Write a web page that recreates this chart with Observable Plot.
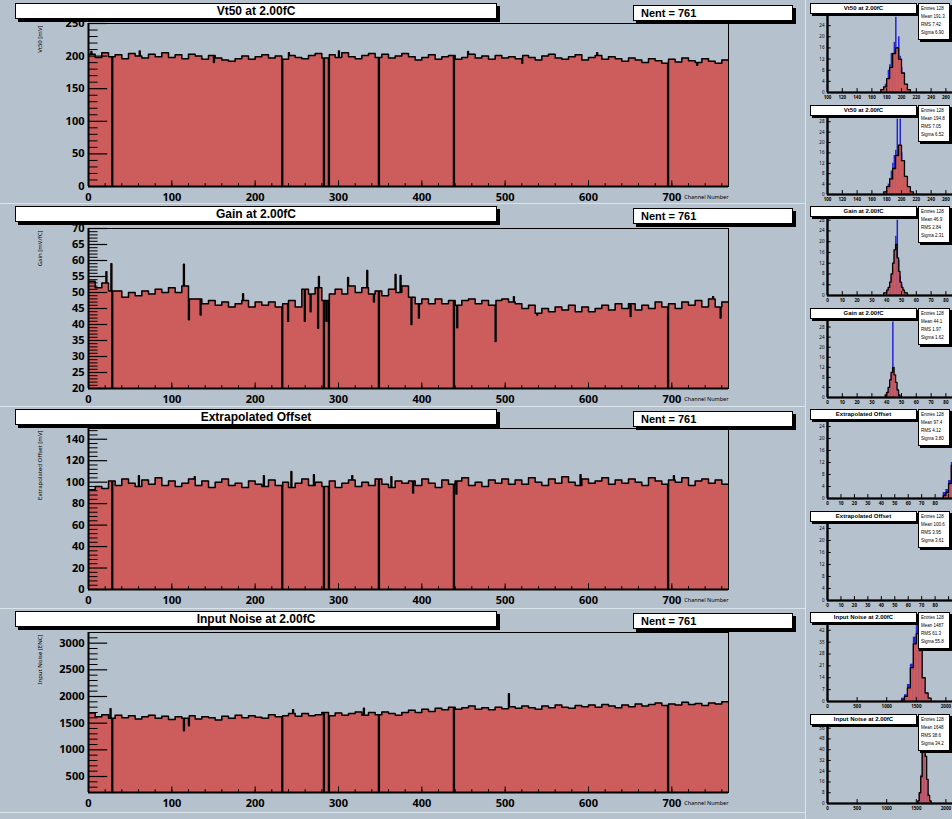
<!DOCTYPE html>
<html>
<head>
<meta charset="utf-8">
<script src="https://cdn.jsdelivr.net/npm/d3@7"></script>
<script src="https://cdn.jsdelivr.net/npm/@observablehq/plot@0.6"></script>
<style>
  body { margin: 0; background: #fff; }
  #canvas { position: relative; width: 952px; height: 819px; overflow: hidden; background: #b5c1cc;
            font-family: "Liberation Sans", Arial, Helvetica, sans-serif; }
  #canvas svg { position: absolute; max-width: none; }
  .box { position: absolute; background: #fff; border: 1px solid #000; box-shadow: 3px 3px 0 #000;
         box-sizing: border-box; color: #000; white-space: nowrap; overflow: hidden; }
  .title { font-weight: bold; font-size: 12px; line-height: 14px; text-align: center; }
  .nent { font-weight: bold; font-size: 11px; line-height: 14px; padding-left: 7px; }
  .mtitle { font-weight: bold; font-size: 6px; line-height: 9px; text-align: center; box-shadow: 2px 2px 0 #000; }
  .mstats { font-size: 4.5px; line-height: 8px; padding: 1px 2px; box-shadow: 2px 2px 0 #000; }
  .sep { position: absolute; background: #dbe3ea; }
</style>
</head>
<body>
<div id="canvas"></div>
<script>
// ---- channel scan: 768 channels, values listed per 8-channel block ----
const NCH = 768;
const deadChannels = [28, 232, 282, 288, 348, 438, 695];
const nent = 761;
const xMajor = [0, 100, 200, 300, 400, 500, 600, 700];

const vt50Blocks = [
  203,198,205,199,202,196,204,200,197,203,199,205,198,202,196,203,
  200,195,201,197,194,192,196,200,195,199,202,197,200,195,201,198,
  196,201,204,197,202,198,205,199,196,201,204,198,203,197,200,204,
  199,194,198,202,195,199,201,195,198,203,197,200,195,201,197,199,
  196,201,198,194,200,203,197,195,199,202,194,198,201,195,199,196,
  192,197,194,190,196,193,189,195,191,197,193,190,196,192,189,194
];
const vt50Spikes = [[3, 207], [61, 208], [150, 190], [240, 205], [300, 208], [455, 207], [520, 189], [610, 205], [730, 186]];

const gainBlocks = [
  53.5,51.5,53,50.5,50.5,48.5,50,49,50.5,49.5,51,50,51.5,50,52,48,
  48,46.5,47.5,46,47,45.5,46.5,47.5,45.5,47,46,47,45.5,46.5,47.5,45.5,
  51,49.5,51.5,47.5,49.5,51,49.5,52,50,51.5,49.5,50.5,49,51,50,52,
  48.5,46.5,48,46.5,48,46.5,47.5,46,47.5,48,46.5,47.5,46,47.5,48,47,
  46.5,45,46,43.5,45,44,45.5,44.5,46,44,45.5,44,45,46,44.5,46.5,
  45,46.5,44.5,46,45,47,45.5,46.5,45,47,46,47.5,45.5,48,45.5,47
];
const gainSpikes = [
  [21, 56.5], [27, 59], [114, 58.8], [120, 41.5], [134, 43], [185, 49.6], [239, 41],
  [259, 41], [266, 44], [275, 38.8], [276, 55], [285, 41], [311, 54.7], [334, 56.9],
  [342, 47], [368, 55.6], [374, 55.3], [387, 40], [396, 42], [442, 39], [488, 34.7],
  [510, 48.7], [538, 43], [650, 42.5], [749, 48.7], [758, 42]
];

const offsetBlocks = [
  93,96,94,101,97,103,99,96,102,98,104,97,101,96,99,103,
  97,101,95,100,103,97,99,95,101,98,96,102,97,100,95,99,
  103,97,100,96,101,95,99,102,96,100,97,103,98,95,101,99,
  101,97,103,99,95,102,98,101,104,97,100,96,102,99,103,98,
  102,98,104,100,97,103,99,105,100,97,103,99,101,104,98,102,
  99,103,100,97,104,101,98,102,100,104,97,101,103,99,102,98
];
const offsetSpikes = [[60, 106], [127, 105], [210, 106], [243, 110], [270, 107], [316, 106],
                      [363, 105], [389, 90], [441, 89], [590, 107], [702, 106]];

const noiseBlocks = [
  1690,1620,1660,1590,1650,1600,1640,1580,1620,1650,1590,1630,1570,1620,1590,1640,
  1580,1620,1600,1560,1630,1590,1650,1600,1640,1610,1590,1660,1620,1640,1680,1630,
  1680,1640,1660,1700,1640,1690,1650,1680,1710,1650,1700,1660,1710,1680,1650,1700,
  1740,1700,1760,1720,1780,1750,1800,1760,1790,1820,1760,1790,1750,1800,1770,1810,
  1780,1820,1790,1760,1820,1790,1840,1800,1780,1830,1810,1840,1800,1850,1820,1790,
  1840,1810,1860,1820,1850,1880,1830,1860,1840,1890,1850,1870,1830,1880,1860,1900
];
const noiseSpikes = [[26, 1770], [114, 1360], [120, 1450], [245, 1750], [330, 1780], [504, 2050]];

// ---- per-chip distributions (right column) ----
const vtA_red  = [1,2,5,9,14,16,12,7,3,1];                 // from 172, width 4
const vtA_blue = [0,1,2,3,5,8,10,14,12,18,27,16,20,13,9,6,3,2,1,0]; // from 172, width 2
const vtB_red  = [1,3,6,10,15,19,13,7,3,1];                // from 176, width 4
const vtB_blue = [0,1,2,4,6,9,12,15,17,29,14,29,16,10,7,4,2,1,0,0];
const gainA_red  = [1,1,2,3,5,8,12,17,19,14,9,5,3,2,1,1];  // from 38, width 1
const gainA_blue = [0,1,1,2,4,7,10,15,22,28,13,7,4,2,1,0];
const gainB_red  = [1,2,4,7,10,12,9,6,3,1];                // from 39, width 1
const gainB_blue = [0,1,3,6,9,30,8,5,2,1];
const offA_red  = [1,2,5,11,18,22,15,7,3,1];               // from 86, width 2
const offA_blue = [2,3,6,12,17,20,14,6,2,1];
const noiseA_red  = [1,3,8,20,34,40,30,14,5,2];            // from 1250, width 50
const noiseA_blue = [2,4,10,22,38,52,28,12,4,1];
const noiseB_red  = [2,8,20,38,46,35,18,6,2,0];            // from 1525, width 25
const noiseB_blue = [1,7,21,40,44,36,17,7,2,0];

const RED = "#cd5c5c";
const BLUE = "#2323d6";
const canvas = document.getElementById("canvas");

function channelRows(blocks, spikes) {
  const sp = new Map(spikes);
  const rows = [];
  for (let ch = 0; ch < NCH; ch++) {
    const v = deadChannels.includes(ch) ? 0 : (sp.has(ch) ? sp.get(ch) : blocks[Math.floor(ch / 8)]);
    rows.push({ch, v});
  }
  rows.push({ch: NCH, v: rows[NCH - 1].v});
  return rows;
}

function range(a, b, s) { const r = []; for (let v = a; v <= b + 1e-9; v += s) r.push(+v.toFixed(6)); return r; }

function addBox(cls, left, top, width, height, html) {
  const d = document.createElement("div");
  d.className = "box " + cls;
  Object.assign(d.style, {left: left + "px", top: top + "px", width: width + "px", height: height + "px"});
  d.innerHTML = html;
  canvas.appendChild(d);
}

// ---- left column: four channel scans ----
const panels = [
  {top: 0,   h: 203, mt: 23, mb: 17, title: "Vt50 at 2.00fC", ytitle: "Vt50 [mV]",
   blocks: vt50Blocks, spikes: vt50Spikes, y: [0, 250], major: 50, minor: 10},
  {top: 203, h: 203, mt: 25, mb: 18, title: "Gain at 2.00fC", ytitle: "Gain [mV/fC]",
   blocks: gainBlocks, spikes: gainSpikes, y: [20, 70], major: 5, minor: 1},
  {top: 406, h: 202, mt: 22, mb: 19, title: "Extrapolated Offset", ytitle: "Extrapolated Offset [mV]",
   blocks: offsetBlocks, spikes: offsetSpikes, y: [0, 150], major: 20, minor: 4},
  {top: 608, h: 204, mt: 24, mb: 20, title: "Input Noise at 2.00fC", ytitle: "Input Noise [ENC]",
   blocks: noiseBlocks, spikes: noiseSpikes, y: [200, 3200], major: 500, minor: 100}
];

for (const p of panels) {
  const rows = channelRows(p.blocks, p.spikes);
  const [y0, y1] = p.y;
  const majors = range(Math.ceil(y0 / p.major) * p.major, y1, p.major);
  const minors = range(Math.ceil(y0 / p.minor) * p.minor, y1, p.minor).filter(v => !majors.includes(v));
  const span = y1 - y0;
  const svg = Plot.plot({
    width: 805, height: p.h,
    marginLeft: 88, marginRight: 77, marginTop: p.mt, marginBottom: p.mb,
    style: {background: "transparent", overflow: "visible"},
    x: {domain: [0, NCH], axis: null},
    y: {domain: p.y, axis: null},
    marks: [
      Plot.areaY(rows, {x: "ch", y1: y0, y2: "v", curve: "step-after", fill: RED, clip: true}),
      Plot.lineY(rows, {x: "ch", y: "v", curve: "step-after", stroke: "#000", strokeWidth: 1.5, clip: true}),
      Plot.frame({stroke: "#000", strokeWidth: 1}),
      Plot.ruleX([0], {stroke: "#000", strokeWidth: 2}),
      Plot.ruleY([y0], {stroke: "#000", strokeWidth: 2}),
      Plot.ruleY(majors, {y: d => d, x1: 0, x2: 23, stroke: "#000", strokeWidth: 1.2}),
      Plot.ruleY(minors, {y: d => d, x1: 0, x2: 11.5, stroke: "#000", strokeWidth: 1}),
      Plot.ruleX(range(20, 760, 20), {x: d => d, y1: y0, y2: y0 + span * 0.018, stroke: "#000"}),
      Plot.ruleX(xMajor, {x: d => d, y1: y0, y2: y0 + span * 0.035, stroke: "#000"}),
      Plot.text(majors, {x: 0, y: d => d, text: d => String(d), dx: -4, textAnchor: "end",
                         fontSize: 11, fontWeight: "bold", fill: "#000"}),
      Plot.text(xMajor, {x: d => d, y: y0, text: d => String(d), dy: 11,
                         fontSize: 11, fontWeight: "bold", fill: "#000"}),
      Plot.text(["Channel Number"], {frameAnchor: "bottom-right", dy: 12, dx: 0, textAnchor: "end",
                         fontSize: 5.5, fill: "#000"}),
      Plot.text([p.ytitle], {frameAnchor: "top-left", dx: -51, dy: 2, rotate: -90, textAnchor: "end",
                         fontSize: 6, fill: "#000"})
    ]
  });
  svg.style.left = "0px";
  svg.style.top = p.top + "px";
  canvas.appendChild(svg);
  addBox("title", 15, p.top + 3, 482, 16, p.title);
  addBox("nent", 633, p.top + 5, 160, 16, "Nent = " + nent);
}

// ---- right column: per-chip distributions ----
function histRows(lo, w, counts) {
  return counts.map((n, i) => ({x0: lo + i * w, x1: lo + (i + 1) * w, n}));
}
function stepRows(lo, w, counts) {
  const r = [{x: lo, n: 0}];
  counts.forEach((n, i) => r.push({x: lo + i * w, n}));
  r.push({x: lo + counts.length * w, n: 0});
  return r;
}

const minis = [
  {title: "Vt50 at 2.00fC", x: [100, 300], xt: 20, ymax: 28, lo: 172, w: 4, red: vtA_red, blo: 172, bw: 2, blue: vtA_blue,
   stats: ["Entries 128", "Mean 191.3", "RMS 7.42", "Sigma 6.90"]},
  {title: "Vt50 at 2.00fC", x: [100, 300], xt: 20, ymax: 30, lo: 176, w: 4, red: vtB_red, blo: 176, bw: 2, blue: vtB_blue,
   stats: ["Entries 128", "Mean 194.8", "RMS 7.05", "Sigma 6.52"]},
  {title: "Gain at 2.00fC", x: [0, 100], xt: 10, ymax: 29, lo: 38, w: 1, red: gainA_red, blo: 38, bw: 1, blue: gainA_blue,
   stats: ["Entries 128", "Mean 46.9", "RMS 2.84", "Sigma 2.31"]},
  {title: "Gain at 2.00fC", x: [0, 100], xt: 10, ymax: 31, lo: 39, w: 1, red: gainB_red, blo: 39, bw: 1, blue: gainB_blue,
   stats: ["Entries 128", "Mean 44.1", "RMS 1.97", "Sigma 1.62"]},
  {title: "Extrapolated Offset", x: [0, 110], xt: 10, ymax: 26, lo: 86, w: 2, red: offA_red, blo: 86, bw: 2, blue: offA_blue,
   stats: ["Entries 128", "Mean 97.4", "RMS 4.12", "Sigma 3.80"]},
  {title: "Extrapolated Offset", x: [0, 110], xt: 10, ymax: 26, lo: 0, w: 2, red: [], blo: 0, bw: 2, blue: [],
   stats: ["Entries 128", "Mean 100.6", "RMS 3.95", "Sigma 3.61"]},
  {title: "Input Noise at 2.00fC", x: [0, 2500], xt: 500, ymax: 46, lo: 1250, w: 50, red: noiseA_red, blo: 1250, bw: 50, blue: noiseA_blue,
   stats: ["Entries 128", "Mean 1487", "RMS 61.3", "Sigma 55.8"]},
  {title: "Input Noise at 2.00fC", x: [0, 2500], xt: 500, ymax: 58, lo: 1525, w: 25, red: noiseB_red, blo: 1525, bw: 25, blue: noiseB_blue,
   stats: ["Entries 128", "Mean 1648", "RMS 38.6", "Sigma 34.2"]}
];

const MINI_W = 170, MINI_ML = 22, VISIBLE = 952 - 805;
minis.forEach((m, k) => {
  const top = Math.round(k * 101.5);
  const frac = v => (v - m.x[0]) / (m.x[1] - m.x[0]);
  const xtAll = range(m.x[0], m.x[1], m.xt);
  // tick labels that fall inside the visible part of the pad
  const xt = xtAll.filter(v => MINI_ML + frac(v) * (MINI_W - MINI_ML) <= VISIBLE - 6);
  const yt = range(0, m.ymax, Math.max(1, Math.round(m.ymax / 7)));
  const svg = Plot.plot({
    width: MINI_W, height: 101,
    marginLeft: MINI_ML, marginRight: 0, marginTop: 14, marginBottom: 9,
    style: {background: "transparent", overflow: "visible"},
    x: {domain: m.x, axis: null},
    y: {domain: [0, m.ymax], axis: null},
    marks: [
      Plot.rectY(histRows(m.blo, m.bw, m.blue), {x1: "x0", x2: "x1", y: "n", fill: BLUE, clip: true}),
      Plot.rectY(histRows(m.lo, m.w, m.red), {x1: "x0", x2: "x1", y: "n", fill: RED, clip: true}),
      Plot.lineY(stepRows(m.lo, m.w, m.red), {x: "x", y: "n", curve: "step-after", stroke: "#000", strokeWidth: 1.3, clip: true}),
      Plot.frame({stroke: "#000", strokeWidth: 1.5}),
      Plot.ruleX([m.x[0]], {stroke: "#000", strokeWidth: 2.2}),
      Plot.ruleY([0], {stroke: "#000", strokeWidth: 2.2}),
      Plot.ruleY(yt, {y: d => d, x1: m.x[0], x2: m.x[0] + (m.x[1] - m.x[0]) * 0.025, stroke: "#000"}),
      Plot.ruleX(xtAll, {x: d => d, y1: 0, y2: m.ymax * 0.05, stroke: "#000"}),
      Plot.text(yt, {x: m.x[0], y: d => d, text: d => String(d), dx: -3, textAnchor: "end", fontSize: 4.5, fill: "#000"}),
      Plot.text(xt, {x: d => d, y: 0, text: d => String(d), dy: 5, fontSize: 4.5, fontWeight: "bold", fill: "#000"})
    ]
  });
  svg.style.left = "805px";
  svg.style.top = top + "px";
  canvas.appendChild(svg);
  addBox("mtitle", 810, top + 3, 107, 11, m.title);
  addBox("mstats", 918, top + 3, 32, 37, m.stats.join("<br>"));
});

// pad borders
for (const y of [203, 406, 608, 812]) {
  const s = document.createElement("div");
  s.className = "sep";
  Object.assign(s.style, {left: "0px", top: y + "px", width: "805px", height: "1px"});
  canvas.appendChild(s);
}
const v = document.createElement("div");
v.className = "sep";
Object.assign(v.style, {left: "805px", top: "0px", width: "1px", height: "819px"});
canvas.appendChild(v);
</script>
</body>
</html>
